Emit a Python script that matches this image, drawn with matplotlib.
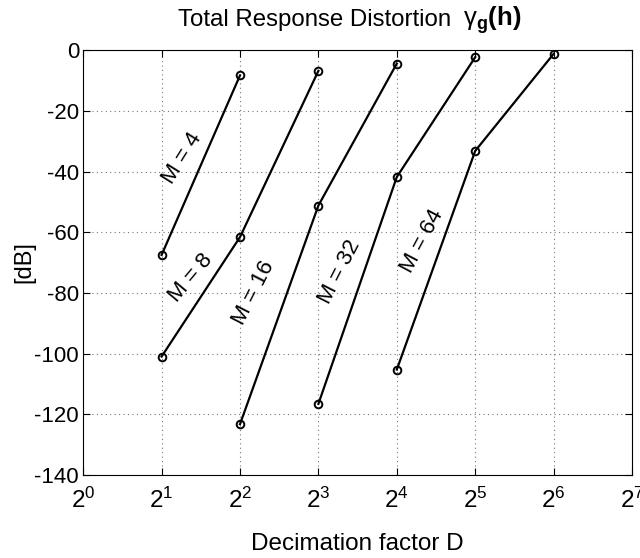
import numpy as np
import matplotlib.pyplot as plt

plt.rcParams['font.family'] = ['Liberation Sans', 'DejaVu Sans']
plt.rcParams['mathtext.fontset'] = 'custom'
plt.rcParams['mathtext.rm'] = 'Liberation Sans'
plt.rcParams['mathtext.bf'] = 'Liberation Sans:bold'
plt.rcParams['mathtext.it'] = 'Liberation Sans:italic'
plt.rcParams['axes.unicode_minus'] = False

# decimation factors and distortion (dB) for each filter length M
m_labels = ["M = 4", "M = 8", "M = 16", "M = 32", "M = 64"]
d_m4 = [2, 4]
y_m4 = [-67.5, -8.3]
d_m8 = [2, 4, 8]
y_m8 = [-101, -61.6, -6.8]
d_m16 = [4, 8, 16]
y_m16 = [-123.3, -51.2, -4.4]
d_m32 = [8, 16, 32]
y_m32 = [-116.6, -41.8, -2.3]
d_m64 = [16, 32, 64]
y_m64 = [-105.3, -33.2, -1.2]

# label anchor (D, dB) and rotation
lab_x = [2 ** 1.26, 2 ** 1.37, 2 ** 2.17, 2 ** 3.27, 2 ** 4.32]
lab_y = [-35.5, -75, -80, -73, -63]
lab_rot = [58, 50, 63, 63, 62]

xticks = [2 ** k for k in range(8)]
xticklabels = [r'$\mathregular{2^{%d}}$' % k for k in range(8)]

fig = plt.figure(figsize=(6.4, 5.58), dpi=100)
ax = fig.add_axes([0.13, 0.149, 0.8575, 0.761])

for d, y in [(d_m4, y_m4), (d_m8, y_m8), (d_m16, y_m16), (d_m32, y_m32), (d_m64, y_m64)]:
    ax.plot(d, y, color='black', linewidth=1.6, marker='o', markersize=5.5,
            markerfacecolor='none', markeredgewidth=1.4)

for txt, x, y, r in zip(m_labels, lab_x, lab_y, lab_rot):
    ax.text(x, y, txt, rotation=r, ha='center', va='center', fontsize=16,
            rotation_mode='anchor')

ax.set_xscale('log', base=2)
ax.set_xlim(1, 128)
ax.set_ylim(-140, 0)
ax.set_xticks(xticks)
ax.set_xticklabels(xticklabels, fontsize=17.5)
ax.minorticks_off()
ax.set_yticks(np.arange(-140, 1, 20))
ax.tick_params(axis='y', labelsize=16, direction='in', right=True, length=5, pad=3)
ax.tick_params(axis='x', direction='in', top=True, length=5, pad=9)
ax.grid(True, linestyle=(0, (1, 3)), color='#777777', linewidth=0.8)

# title in two parts, like the original
fig.text(178 / 640, 1 - 26 / 558, 'Total Response Distortion', fontsize=17.3,
         ha='left', va='baseline')
fig.text(463 / 640, 1 - 26 / 558, r'$\mathrm{\gamma}_\mathbf{g}\mathbf{(h)}$', fontsize=18.5,
         ha='left', va='baseline')

ax.set_xlabel('Decimation factor D', fontsize=17.5)
ax.xaxis.set_label_coords(0.5, -0.162)
ax.xaxis.label.set_va('center')
ax.set_ylabel('[dB]', fontsize=17)
ax.yaxis.set_label_coords(-0.107, 0.5)
ax.yaxis.label.set_va('center')

fig.savefig('out.png', dpi=100)
